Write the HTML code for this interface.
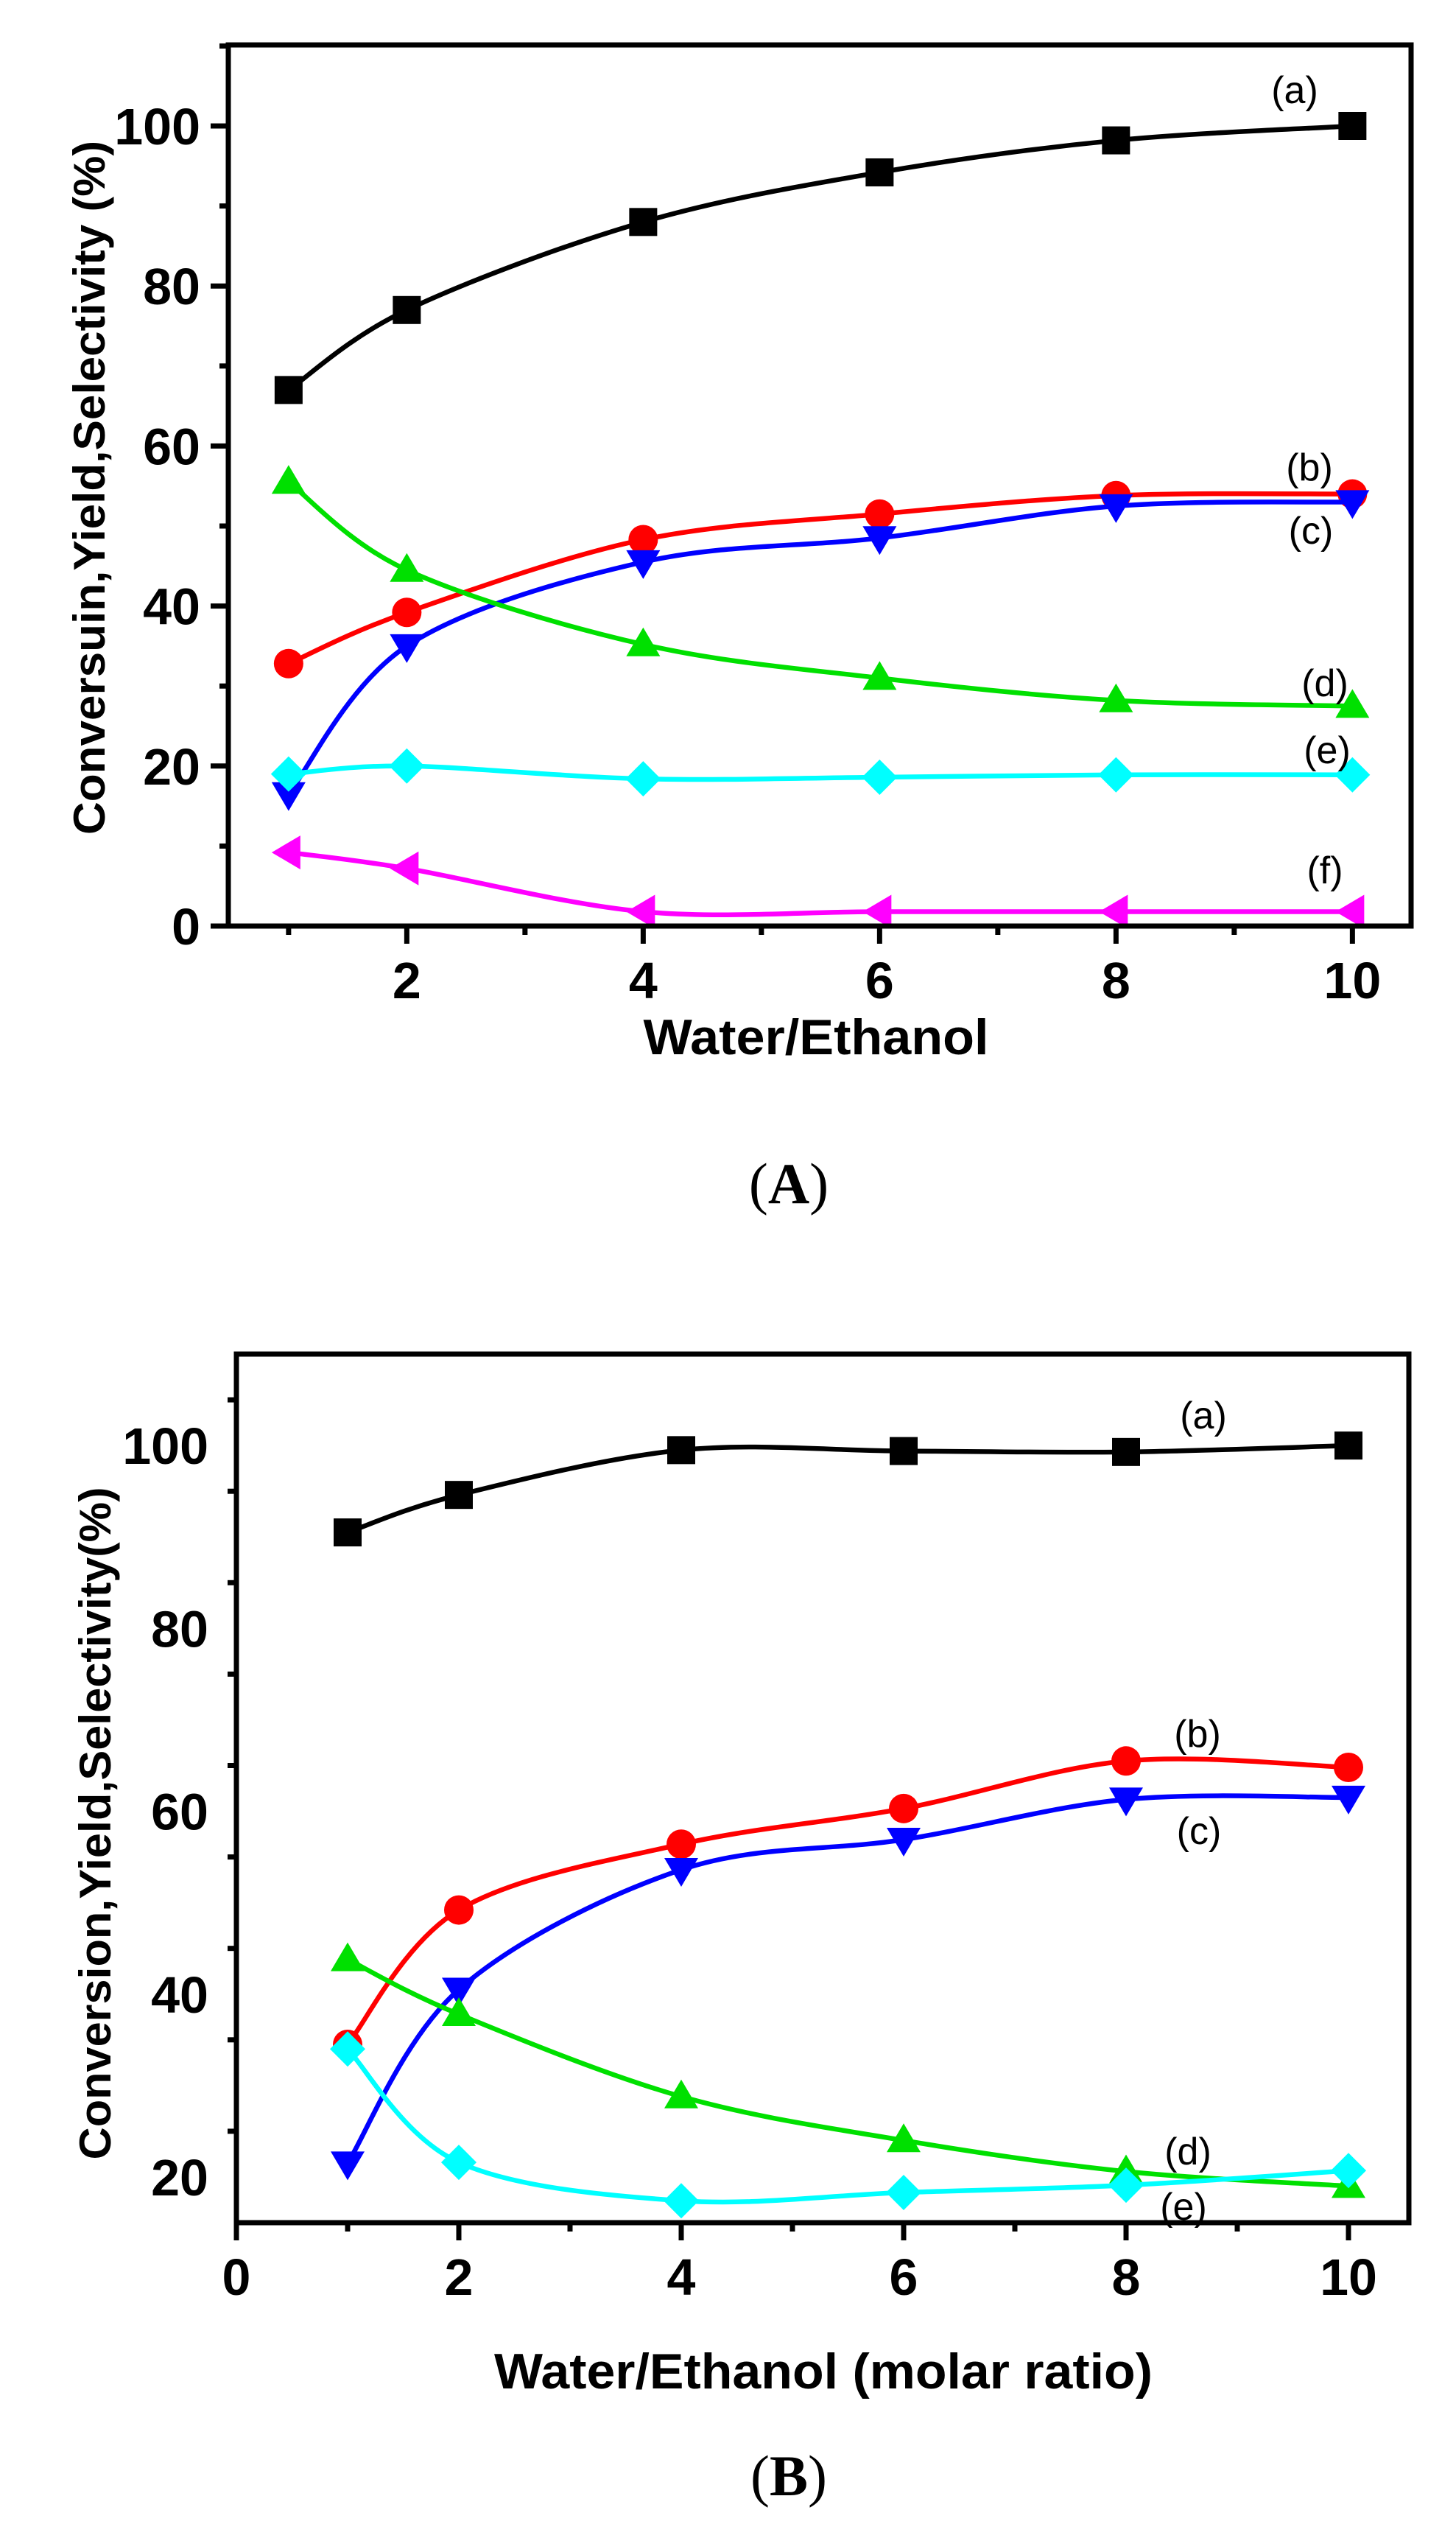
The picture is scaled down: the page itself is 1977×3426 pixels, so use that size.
<!DOCTYPE html>
<html><head><meta charset="utf-8"><style>
html,body{margin:0;padding:0;background:#fff}
svg{display:block}
text{font-family:"Liberation Sans",Arial,sans-serif}
text.cap{font-family:"Liberation Serif","Times New Roman",serif}
</style></head><body>
<svg id="fig" width="1977" height="3426" viewBox="0 0 1977 3426" xmlns="http://www.w3.org/2000/svg"></svg>
<script>
// ---- Chart A data ----
const xCatsA = [1, 2, 4, 6, 8, 10];
const seriesA_a = [67, 77, 88, 94.2, 98.2, 100];
const seriesA_b = [32.8, 39.2, 48.3, 51.5, 53.8, 54];
const seriesA_c = [16.5, 35, 45.5, 48.5, 52.5, 53];
const seriesA_d = [55.5, 44.5, 35.2, 31, 28.2, 27.5];
const seriesA_e = [19, 20, 18.4, 18.6, 18.9, 18.9];
const seriesA_f = [9.2, 7.2, 1.8, 1.8, 1.8, 1.8];
const xTicksA = [2, 4, 6, 8, 10];
const yTicksA = [0, 20, 40, 60, 80, 100];
// ---- Chart B data ----
const xCatsB = [1, 2, 4, 6, 8, 10];
const seriesB_a = [90.5, 94.6, 99.5, 99.4, 99.3, 100];
const seriesB_b = [34.5, 49.2, 56.4, 60.3, 65.5, 64.8];
const seriesB_c = [21.5, 40.5, 53.6, 56.9, 61.3, 61.5];
const seriesB_d = [43.8, 37.8, 28.8, 24, 20.6, 19];
const seriesB_e = [34, 21.6, 17.4, 18.3, 19.1, 20.7];
const xTicksB = [0, 2, 4, 6, 8, 10];
const yTicksB = [20, 40, 60, 80, 100];

const NS = "http://www.w3.org/2000/svg";
const svg = document.getElementById('fig');
function el(tag, attrs, parent) {
  const e = document.createElementNS(NS, tag);
  for (const k in attrs) e.setAttribute(k, attrs[k]);
  (parent || svg).appendChild(e);
  return e;
}
function smoothPath(pts) {
  let d = `M${pts[0][0]},${pts[0][1]}`;
  for (let i = 0; i < pts.length - 1; i++) {
    const p0 = pts[i - 1] || pts[i], p1 = pts[i], p2 = pts[i + 1], p3 = pts[i + 2] || p2;
    const c1x = p1[0] + (p2[0] - p0[0]) / 6, c1y = p1[1] + (p2[1] - p0[1]) / 6;
    const c2x = p2[0] - (p3[0] - p1[0]) / 6, c2y = p2[1] - (p3[1] - p1[1]) / 6;
    d += ` C${c1x},${c1y} ${c2x},${c2y} ${p2[0]},${p2[1]}`;
  }
  return d;
}
function marker(g, shape, x, y, color) {
  const s = 19;
  let m;
  if (shape === 'square') m = el('rect', {x: x - s, y: y - s, width: 2 * s, height: 2 * s, fill: color}, g);
  else if (shape === 'circle') m = el('circle', {cx: x, cy: y, r: s + 1, fill: color}, g);
  else if (shape === 'up') m = el('polygon', {points: `${x},${y - 23} ${x - 23},${y + 16} ${x + 23},${y + 16}`, fill: color}, g);
  else if (shape === 'down') m = el('polygon', {points: `${x},${y + 23} ${x - 23},${y - 16} ${x + 23},${y - 16}`, fill: color}, g);
  else if (shape === 'diamond') m = el('polygon', {points: `${x},${y - 24} ${x + 24},${y} ${x},${y + 24} ${x - 24},${y}`, fill: color}, g);
  else if (shape === 'left') m = el('polygon', {points: `${x - 23},${y} ${x + 16},${y - 23} ${x + 16},${y + 23}`, fill: color}, g);
  
  
}

function drawChart(cfg) {
  const g = el('g', {});
  
  
  const X = v => cfg.L + (v - cfg.xmin) * cfg.xu;
  const Y = v => cfg.B - (v - cfg.ymin) * cfg.yu;
  cfg.series.forEach(s => {
    const sg = el('g', {}, g);
    
    
    const pts = cfg.xs.map((xv, i) => [X(xv), Y(s.vals[i])]);
    const p = el('path', {d: smoothPath(pts), fill: 'none', stroke: s.color, 'stroke-width': 6.5}, sg);
    
    
    pts.forEach(pt => marker(sg, s.shape, pt[0], pt[1], s.color));
    const lab = el('text', {x: s.lx, y: s.ly, 'font-size': 52, 'text-anchor': 'middle', fill: '#000'}, sg);
    lab.textContent = '(' + s.id + ')';
    
    
  });
  const fr = el('rect', {x: cfg.L, y: cfg.T, width: cfg.R - cfg.L, height: cfg.B - cfg.T, fill: 'none', stroke: '#000', 'stroke-width': 7}, g);
  
  
  for (let v = Math.ceil(cfg.xmin); v <= cfg.xmax; v++) {
    const major = cfg.xticks.includes(v);
    const t = el('line', {x1: X(v), x2: X(v), y1: cfg.B, y2: cfg.B + (major ? 24 : 12), stroke: '#000', 'stroke-width': 7}, g);
    
    
  }
  cfg.xticks.forEach(v => {
    const t = el('text', {x: X(v), y: cfg.B + 98, 'font-size': 70, 'font-weight': 'bold', 'text-anchor': 'middle'}, g);
    t.textContent = v;
    
    
  });
  for (let v = cfg.ymin; v <= cfg.ymax; v += 10) {
    if (v < cfg.yminTick) continue;
    const major = cfg.yticks.includes(v);
    const t = el('line', {x1: cfg.L, x2: cfg.L - (major ? 24 : 12), y1: Y(v), y2: Y(v), stroke: '#000', 'stroke-width': 7}, g);
    
    
  }
  cfg.yticks.forEach(v => {
    const t = el('text', {x: cfg.L - 38, y: Y(v) + 25, 'font-size': 70, 'font-weight': 'bold', 'text-anchor': 'end'}, g);
    t.textContent = v;
    
    
  });
  const xt = el('text', {x: cfg.xtx, y: cfg.xty, 'font-size': 68, 'font-weight': 'bold', 'text-anchor': 'middle', textLength: cfg.xtw, lengthAdjust: 'spacingAndGlyphs'}, g);
  xt.textContent = cfg.xtitle;
  
  
  const yt = el('text', {x: 0, y: 0, 'font-size': 60, 'font-weight': 'bold', 'text-anchor': 'middle', textLength: cfg.ytw, lengthAdjust: 'spacingAndGlyphs', transform: `translate(${cfg.ytx},${cfg.yty}) rotate(-90)`}, g);
  yt.textContent = cfg.ytitle;
  
  
  const cap = el('text', {x: cfg.capx, y: cfg.capy, 'font-size': 78, 'text-anchor': 'middle', class: 'cap'}, g);
  cap.innerHTML = '(<tspan font-weight="bold">' + cfg.cap + '</tspan>)';
  
  
}

drawChart({
  name: 'chart-a', L: 310, R: 1916, T: 61, B: 1257,
  xmin: 0.49, xmax: 10.5, xu: 160.5, ymin: 0, ymax: 110, yminTick: 0, yu: 10.86,
  xs: xCatsA, xticks: xTicksA, yticks: yTicksA,
  series: [
    {id: 'a', vals: seriesA_a, color: '#000000', shape: 'square', lx: 1758, ly: 140},
    {id: 'b', vals: seriesA_b, color: '#ff0000', shape: 'circle', lx: 1778, ly: 652},
    {id: 'c', vals: seriesA_c, color: '#0000ff', shape: 'down', lx: 1780, ly: 738},
    {id: 'd', vals: seriesA_d, color: '#00e000', shape: 'up', lx: 1799, ly: 945},
    {id: 'e', vals: seriesA_e, color: '#00ffff', shape: 'diamond', lx: 1802, ly: 1036},
    {id: 'f', vals: seriesA_f, color: '#ff00ff', shape: 'left', lx: 1799, ly: 1199}
  ],
  xtitle: 'Water/Ethanol', xtx: 1108, xty: 1431, xtw: 469,
  ytitle: 'Conversuin,Yield,Selectivity (%)', ytx: 142, yty: 662, ytw: 942,
  cap: 'A', capx: 1071, capy: 1633
});
drawChart({
  name: 'chart-b', L: 321, R: 1913, T: 1838, B: 3017,
  xmin: 0, xmax: 10.5, xu: 151, ymin: 15, ymax: 110, yminTick: 20, yu: 12.41,
  xs: xCatsB, xticks: xTicksB, yticks: yTicksB,
  series: [
    {id: 'a', vals: seriesB_a, color: '#000000', shape: 'square', lx: 1634, ly: 1939},
    {id: 'b', vals: seriesB_b, color: '#ff0000', shape: 'circle', lx: 1626, ly: 2371},
    {id: 'c', vals: seriesB_c, color: '#0000ff', shape: 'down', lx: 1628, ly: 2503},
    {id: 'd', vals: seriesB_d, color: '#00e000', shape: 'up', lx: 1613, ly: 2938},
    {id: 'e', vals: seriesB_e, color: '#00ffff', shape: 'diamond', lx: 1607, ly: 3013}
  ],
  xtitle: 'Water/Ethanol (molar ratio)', xtx: 1118, xty: 3242, xtw: 894,
  ytitle: 'Conversion,Yield,Selectivity(%)', ytx: 150, yty: 2475, ytw: 913,
  cap: 'B', capx: 1071, capy: 3387
});
</script>
</body></html>
